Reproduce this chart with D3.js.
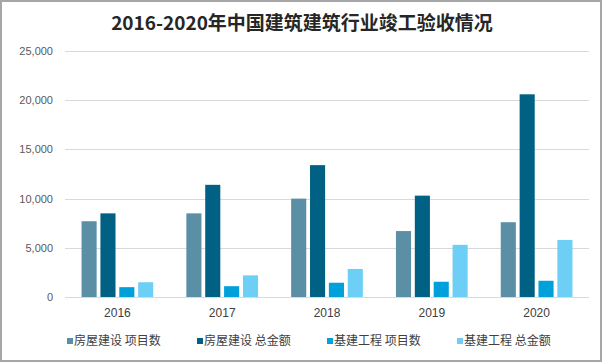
<!DOCTYPE html>
<html><head><meta charset="utf-8">
<script src="https://cdn.jsdelivr.net/npm/d3@7"></script>
<style>
html,body{margin:0;padding:0;background:#fff;}
svg{display:block;}
</style></head>
<body>
<svg id="chart" width="604" height="364"></svg>
<script>
const years = ["2016","2017","2018","2019","2020"];
const seriesNames = ["房屋建设 项目数","房屋建设 总金额","基建工程 项目数","基建工程 总金额"];
const houseCount = [7700, 8500, 10000, 6700, 7600];
const houseAmount = [8500, 11400, 13400, 10300, 20600];
const infraCount = [1000, 1100, 1450, 1550, 1650];
const infraAmount = [1500, 2200, 2850, 5300, 5800];
const yTicks = [0, 5000, 10000, 15000, 20000, 25000];
const colors = ["#5b8fa6", "#006184", "#00a1da", "#6dcff6"];
const title = "2016-2020年中国建筑建筑行业竣工验收情况";

const seriesValues = [houseCount, houseAmount, infraCount, infraAmount];

const svg = d3.select("#chart");
const plot = {left: 65, right: 589, top: 51, bottom: 297};

svg.append("rect").attr("x",1).attr("y",1).attr("width",600).attr("height",360)
  .attr("fill","#fff").attr("stroke","#a6a6a6").attr("stroke-width",2);

const x0 = d3.scaleBand().domain(years).range([plot.left, plot.right]).padding(0);
const groupW = 71.7;
const x1 = d3.scaleBand().domain(d3.range(4))
  .range([(x0.bandwidth()-groupW)/2, (x0.bandwidth()+groupW)/2]).paddingInner(0.2).paddingOuter(0);
const y = d3.scaleLinear().domain([0, 25000]).range([plot.bottom, plot.top]);

// gridlines
svg.append("g").selectAll("line").data(yTicks).join("line")
  .attr("x1", plot.left).attr("x2", plot.right)
  .attr("y1", d => Math.round(y(d))+0.5).attr("y2", d => Math.round(y(d))+0.5)
  .attr("stroke", "#d9d9d9").attr("stroke-width", 1);

// y axis labels
const yAxis = d3.axisLeft(y).tickValues(yTicks).tickSize(0).tickPadding(0)
  .tickFormat(d3.format(","));
const ya = svg.append("g").attr("transform", `translate(${plot.left-12},0)`).call(yAxis);
ya.select(".domain").remove();
ya.selectAll("text").attr("fill","#595959").style("font-family","'Liberation Sans', Arial, sans-serif").style("font-size","11px");

// bars
const groups = svg.append("g").selectAll("g").data(years).join("g")
  .attr("transform", d => `translate(${x0(d)},0)`);
groups.selectAll("rect").data((d,i) => seriesValues.map((s,k) => ({k, v: s[i]}))).join("rect")
  .attr("x", d => x1(d.k)).attr("width", x1.bandwidth())
  .attr("y", d => y(d.v)).attr("height", d => y(0) - y(d.v))
  .attr("fill", d => colors[d.k]);

// x axis labels
const xAxis = d3.axisBottom(x0).tickSize(0).tickPadding(0);
const xa = svg.append("g").attr("transform", `translate(0,${plot.bottom+11})`).call(xAxis);
xa.select(".domain").remove();
xa.selectAll("text").attr("fill","#404040").attr("dy","0.71em").style("font-family","'Liberation Sans', Arial, sans-serif").style("font-size","12px");

// title
svg.append("text").attr("x", 302).attr("y", 30).attr("text-anchor","middle")
  .attr("fill","#262626").style("font-family","'Noto Sans CJK SC', sans-serif")
  .style("font-weight","bold").style("font-size","19px").text(title);

// legend
const legendX = [67, 197, 327, 457];
const lg = svg.append("g").selectAll("g").data(seriesNames).join("g")
  .attr("transform", (d,i) => `translate(${legendX[i]},341)`);
lg.append("rect").attr("x",0).attr("y",-3).attr("width",6).attr("height",6).attr("fill",(d,i)=>colors[i]);
lg.append("text").attr("x",7).attr("y",0).attr("dy","0.35em").attr("fill","#404040")
  .style("font-family","'Noto Sans CJK SC', sans-serif").style("font-size","12px").text(d => d);
</script>
</body></html>
